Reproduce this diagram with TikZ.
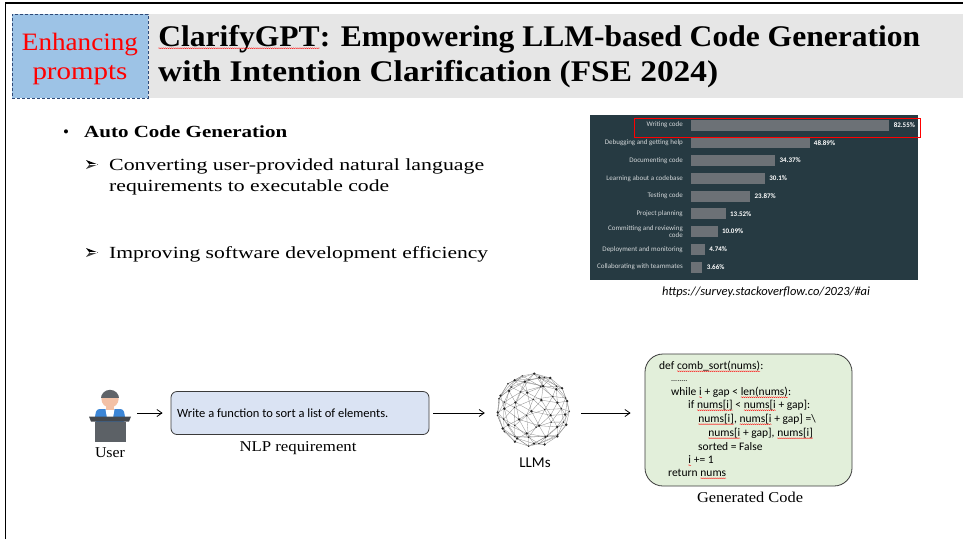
\documentclass[tikz,border=0pt]{standalone}
\usepackage{fontspec}
\usepackage{graphicx}
\usetikzlibrary{arrows.meta,decorations.pathmorphing}
\setmainfont{Liberation Serif}
\newfontfamily\calibrifont{Carlito}

% red spell-check squiggle under a word
\newcommand\rw[1]{\tikz[baseline=(sq.base)]{\node[inner sep=0,outer sep=0] (sq) {#1};
  \draw[red, line width=0.35pt, decorate, decoration={snake, amplitude=0.45pt, segment length=2pt}]
    ([yshift=-2.2pt]sq.base west) -- ([yshift=-2.2pt]sq.base east);}}
% stretch or squeeze a text horizontally to a given width
\newcommand\wfit[2]{\resizebox{#1}{\height}{#2}}

\definecolor{hdrgray}{HTML}{E6E6E6}
\definecolor{tagblue}{HTML}{9DC3E6}
\definecolor{tagedge}{HTML}{2F4A78}
\definecolor{chartbg}{HTML}{263A42}
\definecolor{chartbarc}{HTML}{6C7176}
\definecolor{chartlblc}{HTML}{D3D7D9}
\definecolor{reqblue}{HTML}{DAE3F3}
\definecolor{codegreen}{HTML}{E2EFDA}
\definecolor{boxedge}{HTML}{3A3A3A}
\definecolor{hairc}{HTML}{5F6368}
\definecolor{skinc}{HTML}{F3C1A6}
\definecolor{shirtc}{HTML}{3C86D6}
\definecolor{laptopc}{HTML}{5C6166}
\definecolor{laptoptop}{HTML}{44484D}

\tikzset{
  arr/.style={-{Straight Barb[length=5pt,width=7pt]}, line width=0.8pt},
  chartbar/.style={fill=chartbarc, inner sep=0, minimum height=11pt, anchor=west},
  chartlbl/.style={font=\calibrifont\fontsize{7}{7.5}\selectfont, text=chartlblc, inner sep=0, anchor=east, align=right},
  chartpct/.style={font=\calibrifont\bfseries\fontsize{7}{8}\selectfont, text=white, inner sep=0, anchor=west},
  codeline/.style={font=\calibrifont\fontsize{11.5}{13}\selectfont, inner sep=0, anchor=base west},
  bodytext/.style={font=\fontsize{17}{20}\selectfont, inner sep=0, anchor=base west},
  meshline/.style={draw=black!45, line width=0.3pt},
  % arrowhead bullet, upper half dark and lower half lighter
  pics/arrowbullet/.style={code={
    \fill[black] (-6,-4.5) -- (6,0) -- (-2.5,0) -- cycle;
    \fill[black!75] (-6,4.5) -- (6,0) -- (-2.5,0) -- cycle;
    \draw[white, line width=0.3pt] (-2.5,0) -- (5,0);
  }},
}

\begin{document}
\begin{tikzpicture}[x=1pt,y=-1pt]
\useasboundingbox (0,0) rectangle (963,539);
\fill[white] (0,0) rectangle (963,539);

% slide frame
\draw[line width=1.6pt] (5.5,539) -- (5.5,3) -- (963,3);

% ---------- header ----------
\fill[hdrgray] (12,14) rectangle (963,98);
\node[fill=tagblue, draw=tagedge, dashed, line width=0.9pt, dash pattern=on 3pt off 2pt,
      minimum width=136pt, minimum height=84pt, inner sep=0] (tag) at (80,56) {};
\node[inner sep=0, anchor=base, text=red, font=\fontsize{25}{26}\selectfont] (tag1) at (80,50) {\wfit{116pt}{Enhancing}};
\node[inner sep=0, anchor=base, text=red, font=\fontsize{25}{26}\selectfont] (tag2) at (80,79) {\wfit{95pt}{prompts}};
\node[inner sep=0, anchor=base west, font=\bfseries\fontsize{30}{32}\selectfont] (title1) at (158,46)
  {\wfit{762pt}{\rw{ClarifyGPT}: Empowering LLM-based Code Generation}};
\node[inner sep=0, anchor=base west, font=\bfseries\fontsize{30}{32}\selectfont] (title2) at (158,81)
  {\wfit{560pt}{with Intention Clarification (FSE 2024)}};

% ---------- bullet list ----------
\node[bodytext] (b0) at (63,137) {\textbullet};
\node[bodytext, font=\bfseries\fontsize{17}{20}\selectfont] (t0) at (84,137) {\wfit{203pt}{Auto Code Generation}};
\pic at (92,164.5) {arrowbullet};
\node[bodytext] (t1) at (109,170) {\wfit{375pt}{Converting user-provided natural language}};
\node[bodytext] (t1b) at (109,191) {\wfit{280pt}{requirements to executable code}};
\pic at (92,252.5) {arrowbullet};
\node[bodytext] (t2) at (109,258) {\wfit{379pt}{Improving software development efficiency}};

% ---------- survey chart ----------
\node[fill=chartbg, minimum width=328pt, minimum height=165pt, inner sep=0] (chart) at (754,197.5) {};
\foreach \v/\t [count=\n] in {82.55/Writing code, 48.89/Debugging and getting help,
    34.37/Documenting code, 30.1/Learning about a codebase, 23.87/Testing code,
    13.52/Project planning, 10.09/Committing and reviewing\\code,
    4.74/Deployment and monitoring, 3.66/Collaborating with teammates}{
  \pgfmathsetmacro\bl{2.37*\v+2.5}
  \pgfmathsetmacro\yr{125+(\n-1)*17.75}
  \node[chartbar, minimum width=\bl pt] (bar\n) at (691,\yr) {};
  \node[chartlbl] (lbl\n) at (683,\yr) {\t};
  \node[chartpct] (pct\n) at ([xshift=4pt]bar\n.east) {\v\%};
}
\node[draw=red, line width=1pt, minimum width=286pt, minimum height=19pt, inner sep=0] (hl) at (777,127.5) {};
\node[font=\calibrifont\itshape\fontsize{12.5}{14}\selectfont, inner sep=0] (src) at (766,292)
  {https://survey.stackoverflow.co/2023/\#ai};

% ---------- user icon ----------
\node[minimum width=40pt, minimum height=52pt, inner sep=0] (usericon) at (110,415) {};
\fill[shirtc, rounded corners=3pt] (94,422) -- (96.5,409) -- (123.5,409) -- (126,422) -- cycle;
\fill[white] (105.5,409) -- (114.5,409) -- (113,418) -- (107,418) -- cycle;
\fill[skinc] (106,404) rectangle (114,410);
\fill[skinc] (110,399) circle (8.6);
\begin{scope}
  \clip (95,385) rectangle (125,397);
  \fill[hairc] (110,399) circle (9.2);
\end{scope}
\fill[laptoptop] (89,416.5) -- (131,416.5) -- (129,421.5) -- (91,421.5) -- cycle;
\fill[laptopc] (94.5,421.5) rectangle (125.5,442);
\node[inner sep=0, font=\fontsize{15}{16}\selectfont] (userlbl) at (110,453) {\wfit{30pt}{User}};

% ---------- requirement box ----------
\node[draw=boxedge, line width=0.8pt, fill=reqblue, rounded corners=6pt,
      minimum width=258pt, minimum height=43pt, inner sep=0] (wbox) at (300,413) {};
\node[font=\calibrifont\fontsize{12.5}{14}\selectfont, inner sep=0, anchor=west] (wtext) at (177,413)
  {Write a function to sort a list of elements.};
\node[inner sep=0, font=\fontsize{15}{16}\selectfont] (nlplbl) at (298,448) {\wfit{117pt}{NLP requirement}};

% ---------- LLM network sphere ----------
\node[circle, minimum size=76pt, inner sep=0] (llm) at (533,410) {};
\foreach \i in {0,...,63}{
  \pgfmathsetmacro\zz{1-(2*\i+1)/64}
  \pgfmathsetmacro\rr{sqrt(1-\zz*\zz)}
  \pgfmathsetmacro\ph{\i*137.508}
  \pgfmathsetmacro\xx{\rr*cos(\ph)}
  \pgfmathsetmacro\dd{\rr*sin(\ph)}
  \pgfmathsetmacro\yy{\zz*cos(25)-\dd*sin(25)}
  \coordinate (s\i) at ({533+36.5*\xx},{410-36.5*\yy});
}
\foreach \i in {0,...,63}{
  \foreach \k in {5,8,13}{
    \pgfmathtruncatemacro\j{\i+\k}
    \ifnum\j<64 \draw[meshline] (s\i) -- (s\j); \fi
  }
  \ifnum\i<5
    \foreach \k in {1,2,3}{\pgfmathtruncatemacro\j{\i+\k}\draw[meshline] (s\i) -- (s\j);}
  \fi
  \ifnum\i>58
    \foreach \k in {1,2,3}{\pgfmathtruncatemacro\j{\i+\k}\ifnum\j<64 \draw[meshline] (s\i) -- (s\j);\fi}
  \fi
}
\foreach \i in {0,...,63}{
  \pgfmathsetmacro\zz{1-(2*\i+1)/64}
  \pgfmathsetmacro\rr{sqrt(1-\zz*\zz)}
  \pgfmathsetmacro\dd{\rr*sin(\i*137.508)}
  \pgfmathsetmacro\dp{\zz*sin(25)+\dd*cos(25)}
  \pgfmathsetmacro\rad{\dp>0 ? 1.3 : 0.8}
  \fill[black!85] (s\i) circle (\rad pt);
}
\node[font=\calibrifont\fontsize{15}{16}\selectfont, inner sep=0] (llmlbl) at (535,463) {LLMs};

% ---------- generated code box ----------
\node[draw=boxedge, line width=0.8pt, fill=codegreen, rounded corners=18pt,
      minimum width=207pt, minimum height=132pt, inner sep=0] (code) at (748.5,420) {};
\node[codeline] (c1) at (659,369) {def \rw{comb\_sort(nums)}:};
\node[codeline] (c2) at (671,381) {\fontsize{8}{9}\selectfont........};
\node[codeline] (c3) at (671,395) {while \rw{i} + gap < \rw{len(nums)}:};
\node[codeline] (c4) at (688,408) {if \rw{nums[i]} < \rw{nums[i} + gap]:};
\node[codeline] (c5) at (698,422) {\rw{nums[i]}, \rw{nums[i} + gap] =\textbackslash};
\node[codeline] (c6) at (708,436) {\rw{nums[i} + gap], \rw{nums[i]}};
\node[codeline] (c7) at (698,450) {sorted = False};
\node[codeline] (c8) at (688,463) {\rw{i} += 1};
\node[codeline] (c9) at (668,476) {return \rw{nums}};
\node[inner sep=0, font=\fontsize{15}{16}\selectfont] (codelbl) at (750,497) {\wfit{106pt}{Generated Code}};

% ---------- flow arrows ----------
\draw[arr, shorten <=7pt, shorten >=8pt] (usericon.east |- wbox.west) -- (wbox.west);
\draw[arr, shorten <=4pt, shorten >=10pt] (wbox.east) -- (wbox.east -| llm.west);
\draw[arr, shorten <=10pt, shorten >=14pt] (llm.east |- wbox.east) -- (wbox.east -| code.west);
\end{tikzpicture}
\end{document}
